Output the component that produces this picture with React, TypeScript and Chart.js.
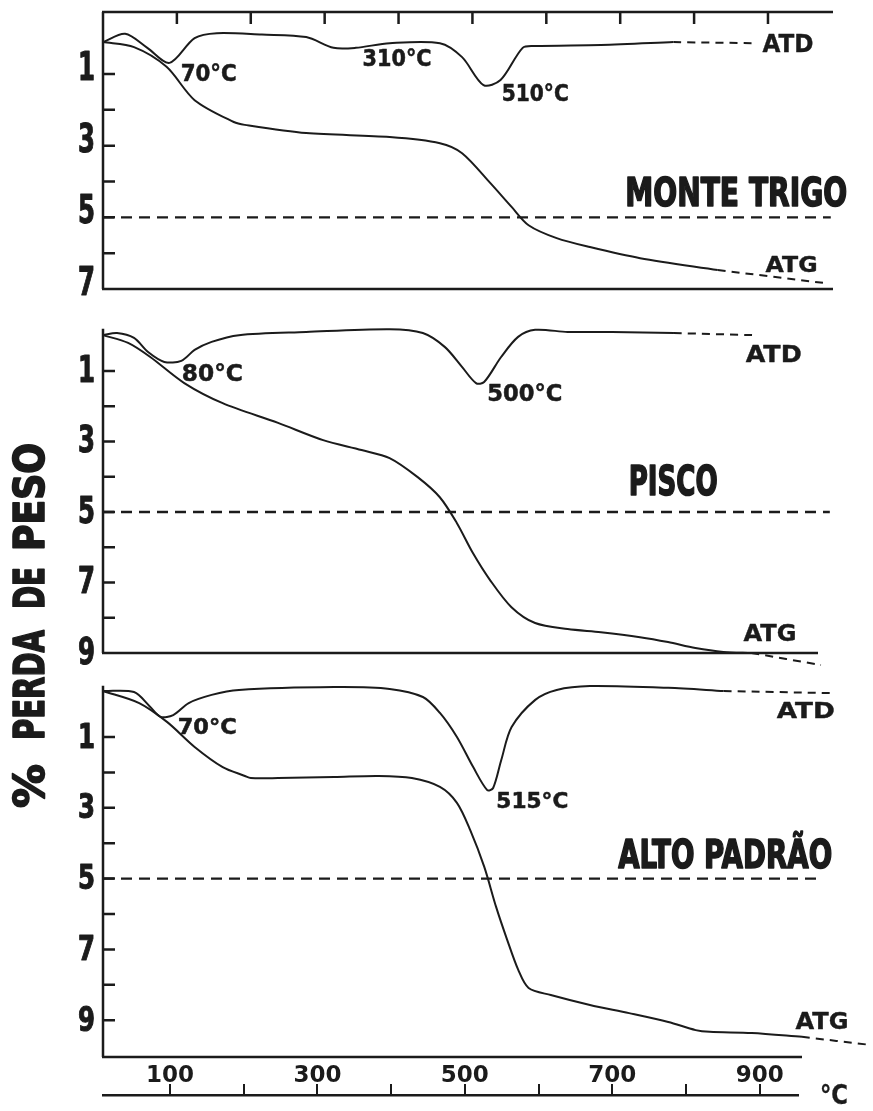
import React, { useEffect, useRef } from 'react';
import { Chart, registerables } from 'chart.js';

Chart.register(...registerables);

const INK = '#1b1b1b';
const COND = "'DejaVu Sans Condensed', 'Liberation Sans Narrow', 'DejaVu Sans', sans-serif";
const WIDE = "'DejaVu Sans', 'Liberation Sans', sans-serif";

// ---------- MONTE TRIGO ----------
const MT_ATD_T = [0, 30, 60, 90, 124, 154, 215, 275, 312, 342, 388, 456, 486, 515, 538, 568, 584, 674, 772];
const MT_ATD = [0.11, -0.12, 0.27, 0.69, 0.0, -0.14, -0.1, -0.03, 0.27, 0.27, 0.14, 0.14, 0.53, 1.31, 1.17, 0.27, 0.22, 0.19, 0.11];
const MT_ATD_EXT_T = [772, 881];
const MT_ATD_EXT = [0.11, 0.14];
const MT_ATG_T = [0, 42, 86, 124, 177, 192, 275, 388, 456, 486, 524, 553, 576, 614, 659, 727, 832];
const MT_ATG = [0.11, 0.25, 0.8, 1.73, 2.34, 2.42, 2.65, 2.76, 2.93, 3.21, 4.04, 4.71, 5.22, 5.58, 5.83, 6.14, 6.47];
const MT_ATG_EXT_T = [832, 975];
const MT_ATG_EXT = [6.47, 6.83];
const MT_REF_T = [0, 985];

// ---------- PISCO ----------
const PI_ATD_T = [0, 19, 42, 61, 83, 106, 124, 147, 184, 275, 388, 433, 463, 486, 505, 516, 539, 562, 585, 629, 689, 773];
const PI_ATD = [-0.02, -0.08, 0.06, 0.46, 0.74, 0.71, 0.4, 0.17, -0.02, -0.11, -0.19, -0.08, 0.32, 0.88, 1.34, 1.31, 0.6, 0.03, -0.17, -0.11, -0.11, -0.08];
const PI_ATD_EXT_T = [773, 881];
const PI_ATD_EXT = [-0.08, -0.02];
const PI_ATG_T = [0, 34, 64, 110, 162, 237, 298, 350, 388, 426, 456, 479, 501, 524, 553, 585, 629, 674, 727, 765, 802, 840, 878];
const PI_ATG = [-0.02, 0.2, 0.6, 1.34, 1.91, 2.47, 2.96, 3.24, 3.47, 4.01, 4.58, 5.31, 6.17, 6.93, 7.7, 8.15, 8.32, 8.41, 8.55, 8.69, 8.86, 8.97, 9.0];
const PI_ATG_EXT_T = [878, 972];
const PI_ATG_EXT = [9.0, 9.34];
const PI_REF_T = [0, 984];

// ---------- ALTO PADRÃO ----------
const AP_ATD_T = [0, 42, 64, 78, 95, 116, 147, 184, 313, 388, 433, 456, 479, 501, 520, 528, 539, 553, 585, 614, 659, 765, 840];
const AP_ATD = [-0.3, -0.27, 0.15, 0.43, 0.38, 0.04, -0.19, -0.33, -0.41, -0.36, -0.13, 0.32, 1.0, 1.85, 2.5, 2.44, 1.65, 0.72, -0.05, -0.33, -0.44, -0.39, -0.3];
const AP_ATD_EXT_T = [840, 986];
const AP_ATD_EXT = [-0.3, -0.24];
const AP_ATG_T = [0, 49, 87, 124, 162, 192, 200, 237, 313, 373, 418, 456, 479, 497, 516, 532, 547, 562, 576, 606, 659, 712, 765, 802, 821, 878, 946];
const AP_ATG = [-0.3, 0.04, 0.58, 1.28, 1.85, 2.1, 2.16, 2.16, 2.13, 2.1, 2.16, 2.41, 2.86, 3.63, 4.67, 5.8, 6.73, 7.58, 8.09, 8.29, 8.57, 8.8, 9.05, 9.28, 9.33, 9.36, 9.47];
const AP_ATG_EXT_T = [946, 1039];
const AP_ATG_EXT = [9.47, 9.7];
const AP_REF_T = [0, 967];

// reference level (5 %)
const REF_LEVEL = [5, 5];

// axis ticks
const X_TICKS = [100, 200, 300, 400, 500, 600, 700, 800, 900];
const X_LABELED = [100, 300, 500, 700, 900];
const Y_TICKS_MT = [1, 2, 3, 4, 5, 6];
const Y_LABELS_MT = [1, 3, 5, 7];
const Y_TICKS_PI = [1, 2, 3, 4, 5, 6, 7, 8];
const Y_LABELS_PI = [1, 3, 5, 7, 9];
const Y_TICKS_AP = [1, 2, 3, 4, 5, 6, 7, 8, 9];
const Y_LABELS_AP = [1, 3, 5, 7, 9];

type FitOpts = { cap: number; width?: number; sx?: number; family: string; align?: CanvasTextAlign; stroke?: number };

function drawFit(ctx: CanvasRenderingContext2D, text: string, cx: number, cy: number, o: FitOpts) {
  const size = o.cap / 0.73;
  ctx.font = `bold ${size}px ${o.family}`;
  let sx = o.sx ?? 1;
  if (o.width) sx = o.width / ctx.measureText(text).width;
  ctx.save();
  ctx.translate(cx, cy);
  ctx.scale(sx, 1);
  ctx.textAlign = o.align ?? 'center';
  ctx.textBaseline = 'alphabetic';
  ctx.fillStyle = INK;
  ctx.fillText(text, 0, o.cap / 2);
  if (o.stroke) {
    ctx.lineWidth = o.stroke;
    ctx.strokeStyle = INK;
    ctx.lineJoin = 'round';
    ctx.strokeText(text, 0, o.cap / 2);
  }
  ctx.restore();
}

function pts(xs: number[], ys: number[]) {
  return xs.map((x, i) => ({ x, y: ys[i] }));
}

type Note = { text: string; t: number; v: number; cap: number; width: number; family: string; stroke?: number };

type Panel = {
  id: string;
  atdT: number[]; atd: number[]; atdExtT: number[]; atdExt: number[];
  atgT: number[]; atg: number[]; atgExtT: number[]; atgExt: number[];
  refT: number[];
  xMax: number; yMin: number; yMax: number;
  pad: { left: number; right: number; top: number; bottom: number };
  topAxis: boolean;
  yTicks: number[]; yLabels: number[]; yLabelCap: number; yLabelShift: number;
  notes: Note[];
};

const PANELS: Panel[] = [
  {
    id: 'mt',
    atdT: MT_ATD_T, atd: MT_ATD, atdExtT: MT_ATD_EXT_T, atdExt: MT_ATD_EXT,
    atgT: MT_ATG_T, atg: MT_ATG, atgExtT: MT_ATG_EXT_T, atgExt: MT_ATG_EXT,
    refT: MT_REF_T,
    xMax: 988, yMin: -0.73, yMax: 7,
    pad: { left: 103, right: 40, top: 12, bottom: 822 },
    topAxis: true,
    yTicks: Y_TICKS_MT, yLabels: Y_LABELS_MT, yLabelCap: 28, yLabelShift: -8,
    notes: [
      { text: '70°C', t: 143, v: 0.97, cap: 17, width: 56, family: COND, stroke: 0.5 },
      { text: '310°C', t: 398, v: 0.55, cap: 17, width: 69, family: COND, stroke: 0.5 },
      { text: '510°C', t: 585, v: 1.53, cap: 17, width: 67, family: COND, stroke: 0.5 },
      { text: 'ATD', t: 927, v: 0.14, cap: 18, width: 51, family: WIDE, stroke: 0.4 },
      { text: 'ATG', t: 932, v: 6.3, cap: 16, width: 52, family: WIDE, stroke: 0.4 },
      { text: 'MONTE TRIGO', t: 857, v: 4.29, cap: 29, width: 222, family: COND, stroke: 1.6 },
    ],
  },
  {
    id: 'pi',
    atdT: PI_ATD_T, atd: PI_ATD, atdExtT: PI_ATD_EXT_T, atdExt: PI_ATD_EXT,
    atgT: PI_ATG_T, atg: PI_ATG, atgExtT: PI_ATG_EXT_T, atgExt: PI_ATG_EXT,
    refT: PI_REF_T,
    xMax: 968, yMin: -0.2, yMax: 9,
    pad: { left: 103, right: 55, top: 328.8, bottom: 458 },
    topAxis: false,
    yTicks: Y_TICKS_PI, yLabels: Y_LABELS_PI, yLabelCap: 27, yLabelShift: -3,
    notes: [
      { text: '80°C', t: 148, v: 1.05, cap: 17, width: 61, family: COND, stroke: 0.5 },
      { text: '500°C', t: 571, v: 1.62, cap: 17, width: 75, family: COND, stroke: 0.5 },
      { text: 'ATD', t: 908, v: 0.5, cap: 17, width: 56, family: WIDE, stroke: 0.4 },
      { text: 'ATG', t: 903, v: 8.43, cap: 17, width: 53, family: WIDE, stroke: 0.4 },
      { text: 'PISCO', t: 772, v: 4.09, cap: 30, width: 89, family: COND, stroke: 1.6 },
    ],
  },
  {
    id: 'ap',
    atdT: AP_ATD_T, atd: AP_ATD, atdExtT: AP_ATD_EXT_T, atdExt: AP_ATD_EXT,
    atgT: AP_ATG_T, atg: AP_ATG, atgExtT: AP_ATG_EXT_T, atgExt: AP_ATG_EXT,
    refT: AP_REF_T,
    xMax: 946, yMin: -0.45, yMax: 10.04,
    pad: { left: 103, right: 71, top: 685.7, bottom: 54 },
    topAxis: false,
    yTicks: Y_TICKS_AP, yLabels: Y_LABELS_AP, yLabelCap: 25, yLabelShift: -2,
    notes: [
      { text: '70°C', t: 141, v: 0.69, cap: 16, width: 59, family: COND, stroke: 0.5 },
      { text: '515°C', t: 581, v: 2.78, cap: 16, width: 72, family: COND, stroke: 0.5 },
      { text: 'ATD', t: 951, v: 0.24, cap: 16, width: 58, family: WIDE, stroke: 0.4 },
      { text: 'ATG', t: 973, v: 9.02, cap: 17, width: 53, family: WIDE, stroke: 0.4 },
      { text: 'ALTO PADRÃO', t: 842, v: 4.31, cap: 28, width: 214, family: COND, stroke: 1.6 },
    ],
  },
];

function panelPlugin(p: Panel) {
  return {
    id: 'decor_' + p.id,
    afterDraw(chart: any) {
      const { ctx, chartArea: a, scales } = chart;
      const x = scales.x;
      const y = scales.y;
      ctx.save();
      ctx.strokeStyle = INK;
      ctx.lineWidth = 2.5;
      ctx.beginPath();
      ctx.moveTo(a.left, a.top);
      ctx.lineTo(a.left, a.bottom);
      ctx.moveTo(a.left - 1, a.bottom);
      ctx.lineTo(a.right, a.bottom);
      if (p.topAxis) {
        ctx.moveTo(a.left - 1, a.top);
        ctx.lineTo(a.right, a.top);
        X_TICKS.forEach((t) => {
          const px = x.getPixelForValue(t);
          ctx.moveTo(px, a.top);
          ctx.lineTo(px, a.top + 12);
        });
      }
      p.yTicks.forEach((v) => {
        const py = y.getPixelForValue(v);
        ctx.moveTo(a.left, py);
        ctx.lineTo(a.left + 12, py);
      });
      ctx.stroke();

      // y tick labels (condensed numerals)
      ctx.font = `bold ${p.yLabelCap / 0.73}px ${COND}`;
      const sx = 17 / ctx.measureText('3').width;
      p.yLabels.forEach((v) => {
        const py = y.getPixelForValue(v) + p.yLabelShift;
        drawFit(ctx, String(v), a.left - 8, py, { cap: p.yLabelCap, sx, family: COND, align: 'right', stroke: 1.0 });
      });

      // annotations
      p.notes.forEach((n) => {
        drawFit(ctx, n.text, x.getPixelForValue(n.t), y.getPixelForValue(n.v), {
          cap: n.cap, width: n.width, family: n.family, stroke: n.stroke,
        });
      });
      ctx.restore();
    },
  };
}

function line(label: string, data: { x: number; y: number }[], dash: number[] = [], width = 2) {
  return {
    label,
    data,
    borderColor: INK,
    backgroundColor: INK,
    borderWidth: width,
    borderDash: dash,
    pointRadius: 0,
    tension: 0.3,
    fill: false,
    clip: false as const,
  };
}

function panelConfig(p: Panel): any {
  return {
    type: 'line',
    data: {
      datasets: [
        line('ATD', pts(p.atdT, p.atd)),
        line('ATD (tracejado)', pts(p.atdExtT, p.atdExt), [8, 6]),
        line('ATG', pts(p.atgT, p.atg)),
        line('ATG (tracejado)', pts(p.atgExtT, p.atgExt), [8, 6]),
        { ...line('5 %', pts(p.refT, REF_LEVEL), [11, 7], 2.4), tension: 0 },
      ],
    },
    options: {
      responsive: false,
      maintainAspectRatio: false,
      animation: false,
      events: [],
      layout: { padding: p.pad },
      scales: {
        x: { type: 'linear', min: 0, max: p.xMax, display: false },
        y: { type: 'linear', min: p.yMin, max: p.yMax, reverse: true, display: false },
      },
      plugins: { legend: { display: false }, tooltip: { enabled: false } },
    },
    plugins: [panelPlugin(p)],
  };
}

const pagePlugin = {
  id: 'pageDecor',
  afterDraw(chart: any) {
    const ctx: CanvasRenderingContext2D = chart.ctx;
    ctx.save();
    // rotated y-axis title
    const words = [
      { text: 'PESO', c: 497, len: 108 },
      { text: 'DE', c: 588, len: 42 },
      { text: 'PERDA', c: 685, len: 110 },
      { text: '%', c: 786, len: 44 },
    ];
    words.forEach((w) => {
      ctx.save();
      ctx.translate(28, w.c);
      ctx.rotate(-Math.PI / 2);
      drawFit(ctx, w.text, 0, 0, { cap: 31, width: w.len, family: COND, stroke: 1.6 });
      ctx.restore();
    });
    // unit of the temperature axis
    drawFit(ctx, '°C', 834, 1094, { cap: 20, width: 28, family: WIDE, stroke: 0.4 });
    ctx.restore();
  },
};

function axisConfig(): any {
  return {
    type: 'line',
    data: { datasets: [] },
    options: {
      responsive: false,
      maintainAspectRatio: false,
      animation: false,
      events: [],
      layout: { padding: { left: 103, right: 75, top: 1055, bottom: 8 } },
      scales: {
        x: {
          type: 'linear',
          position: 'top',
          min: 9,
          max: 952,
          afterBuildTicks: (s: any) => {
            s.ticks = X_TICKS.map((v) => ({ value: v }));
          },
          afterFit: (s: any) => {
            s.height = 40;
          },
          ticks: {
            autoSkip: false,
            maxRotation: 0,
            padding: -6,
            color: INK,
            font: { family: WIDE, size: 23, weight: 'bold' },
            callback: (v: any) => (X_LABELED.includes(Number(v)) ? String(v) : ''),
          },
          grid: {
            drawOnChartArea: false,
            drawTicks: true,
            tickLength: 11,
            tickWidth: 2,
            tickColor: INK,
            color: INK,
            lineWidth: 2,
          },
          border: { display: true, color: INK, width: 2.5 },
        },
        y: { type: 'linear', min: 0, max: 1, display: false },
      },
      plugins: { legend: { display: false }, tooltip: { enabled: false } },
    },
    plugins: [pagePlugin],
  };
}

export default function App() {
  const r0 = useRef<HTMLCanvasElement>(null);
  const r1 = useRef<HTMLCanvasElement>(null);
  const r2 = useRef<HTMLCanvasElement>(null);
  const r3 = useRef<HTMLCanvasElement>(null);
  const refs = [r0, r1, r2, r3];

  useEffect(() => {
    const charts: Chart[] = [];
    PANELS.forEach((p, i) => {
      const c = refs[i].current;
      if (c) charts.push(new Chart(c, panelConfig(p)));
    });
    if (r3.current) charts.push(new Chart(r3.current, axisConfig()));
    return () => charts.forEach((c) => c.destroy());
  }, []);

  return (
    <div style={{ position: 'absolute', left: 0, top: 0, width: 873, height: 1111, background: '#ffffff', overflow: 'hidden' }}>
      {refs.map((r, i) => (
        <canvas
          key={i}
          ref={r}
          width={873}
          height={1111}
          style={{ position: 'absolute', left: 0, top: 0, width: 873, height: 1111 }}
        />
      ))}
    </div>
  );
}
